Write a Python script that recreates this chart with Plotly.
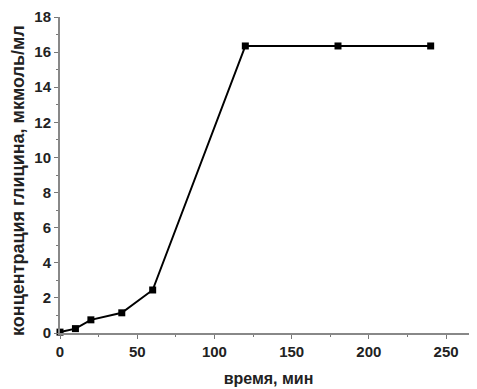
import plotly.graph_objects as go

time_min = [0, 10, 20, 40, 60, 120, 180, 240]
glycine = [0.05, 0.25, 0.75, 1.15, 2.45, 16.35, 16.35, 16.35]

x_ticks = [0, 50, 100, 150, 200, 250]
y_ticks = [0, 2, 4, 6, 8, 10, 12, 14, 16, 18]

fig = go.Figure()
fig.add_trace(go.Scatter(
    x=time_min, y=glycine, mode="lines+markers",
    line=dict(color="black", width=2),
    marker=dict(symbol="square", size=7, color="black"),
    showlegend=False, cliponaxis=False,
))

font_tick = dict(family="Liberation Sans, Arial", size=15, color="#222", weight="bold")
fig.update_layout(
    width=469, height=381,
    margin=dict(l=52, r=0, t=9, b=56),
    paper_bgcolor="white", plot_bgcolor="white",
    xaxis=dict(
        range=[0, 270], tickvals=x_ticks, ticks="outside", ticklen=4,
        tickcolor="#777", showline=True, linecolor="#888", linewidth=2,
        showgrid=False, zeroline=False, automargin=False,
        tickfont=font_tick,
        minor=dict(tickvals=[25, 75, 125, 175, 225], ticks="outside", ticklen=2, tickcolor="#777"),
        title=dict(text="время, мин", font=dict(family="Liberation Sans, Arial", size=16, color="#222", weight="bold"), standoff=14),
    ),
    yaxis=dict(
        range=[0, 18], tickvals=y_ticks, ticks="outside", ticklen=4,
        tickcolor="#777", showline=True, linecolor="#888", linewidth=2,
        showgrid=False, zeroline=False, automargin=False,
        tickfont=font_tick,
        minor=dict(tickvals=[1, 3, 5, 7, 9, 11, 13, 15, 17], ticks="outside", ticklen=2, tickcolor="#777"),
    ),
    annotations=[dict(
        text="концентрация глицина, мкмоль/мл", textangle=-90,
        xref="paper", yref="paper", x=(18 - 60) / 417, y=(333 - 181) / 316,
        xanchor="center", yanchor="middle", showarrow=False,
        font=dict(family="Liberation Sans, Arial", size=18, color="#222", weight="bold"),
    )],
)
fig.write_html("out.html")
